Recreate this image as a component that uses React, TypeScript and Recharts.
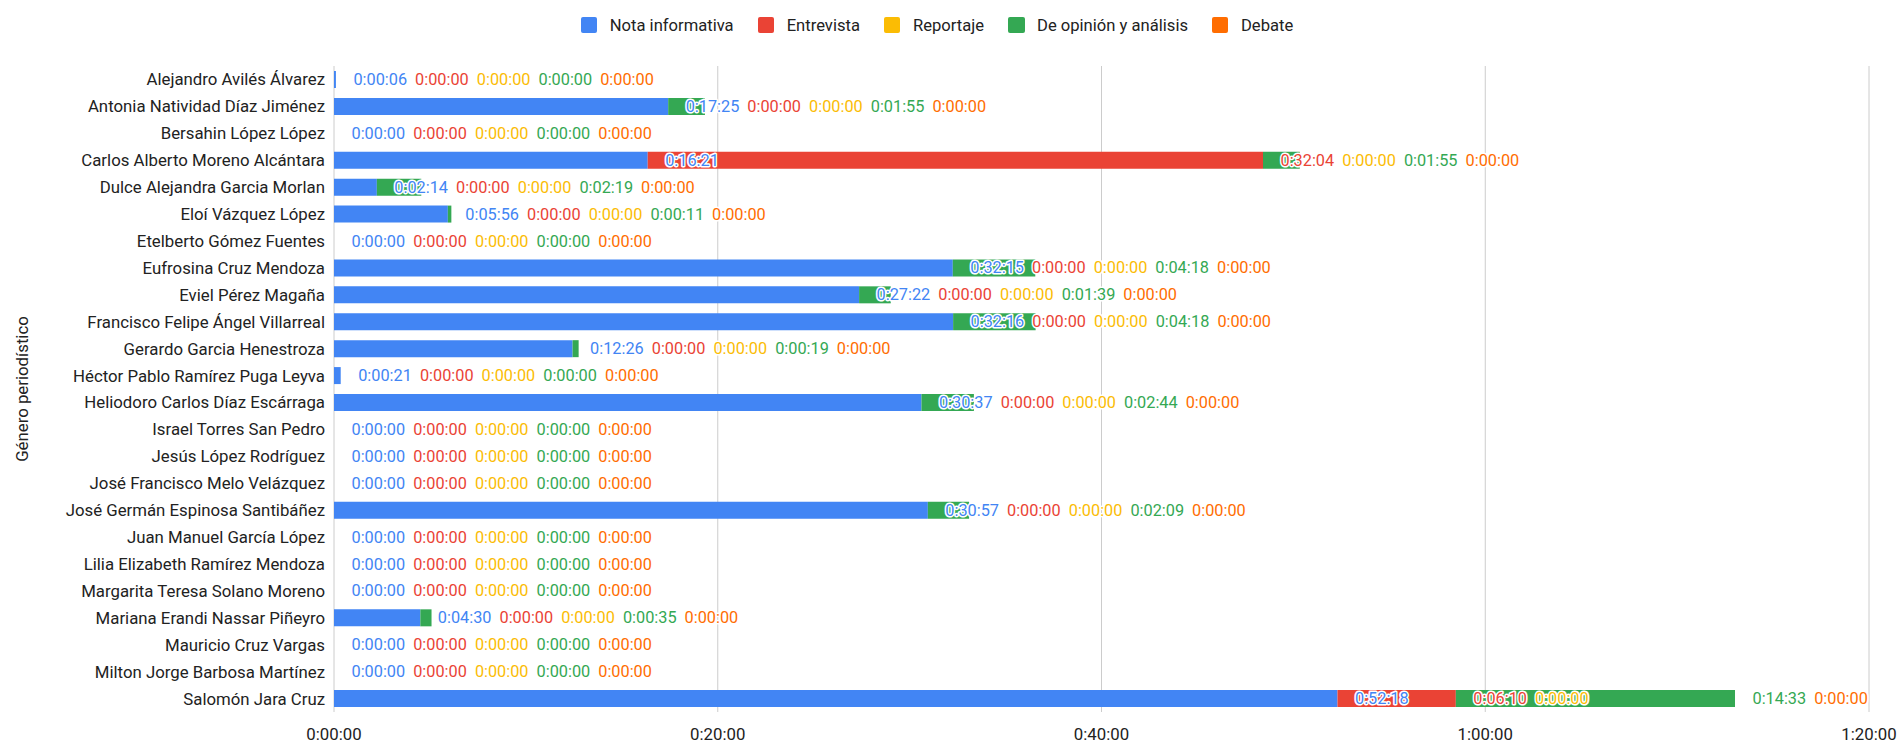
import { BarChart, Bar, XAxis, YAxis, CartesianGrid, Legend } from "recharts";

const candidates = [
  "Alejandro Avilés Álvarez",
  "Antonia Natividad Díaz Jiménez",
  "Bersahin López López",
  "Carlos Alberto Moreno Alcántara",
  "Dulce Alejandra Garcia Morlan",
  "Eloí Vázquez López",
  "Etelberto Gómez Fuentes",
  "Eufrosina Cruz Mendoza",
  "Eviel Pérez Magaña",
  "Francisco Felipe Ángel Villarreal",
  "Gerardo Garcia Henestroza",
  "Héctor Pablo Ramírez Puga Leyva",
  "Heliodoro Carlos Díaz Escárraga",
  "Israel Torres San Pedro",
  "Jesús López Rodríguez",
  "José Francisco Melo Velázquez",
  "José Germán Espinosa Santibáñez",
  "Juan Manuel García López",
  "Lilia Elizabeth Ramírez Mendoza",
  "Margarita Teresa Solano Moreno",
  "Mariana Erandi Nassar Piñeyro",
  "Mauricio Cruz Vargas",
  "Milton Jorge Barbosa Martínez",
  "Salomón Jara Cruz",
];

const notaInformativa = [
  "0:00:06", "0:17:25", "0:00:00", "0:16:21", "0:02:14", "0:05:56", "0:00:00", "0:32:15",
  "0:27:22", "0:32:16", "0:12:26", "0:00:21", "0:30:37", "0:00:00", "0:00:00", "0:00:00",
  "0:30:57", "0:00:00", "0:00:00", "0:00:00", "0:04:30", "0:00:00", "0:00:00", "0:52:18",
];
const entrevista = [
  "0:00:00", "0:00:00", "0:00:00", "0:32:04", "0:00:00", "0:00:00", "0:00:00", "0:00:00",
  "0:00:00", "0:00:00", "0:00:00", "0:00:00", "0:00:00", "0:00:00", "0:00:00", "0:00:00",
  "0:00:00", "0:00:00", "0:00:00", "0:00:00", "0:00:00", "0:00:00", "0:00:00", "0:06:10",
];
const reportaje = candidates.map(() => "0:00:00");
const opinion = [
  "0:00:00", "0:01:55", "0:00:00", "0:01:55", "0:02:19", "0:00:11", "0:00:00", "0:04:18",
  "0:01:39", "0:04:18", "0:00:19", "0:00:00", "0:02:44", "0:00:00", "0:00:00", "0:00:00",
  "0:02:09", "0:00:00", "0:00:00", "0:00:00", "0:00:35", "0:00:00", "0:00:00", "0:14:33",
];
const debate = candidates.map(() => "0:00:00");

const xTicks = [0, 1200, 2400, 3600, 4800];

const SERIES = [
  { key: "nota", name: "Nota informativa", color: "#4285F4", values: notaInformativa },
  { key: "entrevista", name: "Entrevista", color: "#EA4335", values: entrevista },
  { key: "reportaje", name: "Reportaje", color: "#FBBC04", values: reportaje },
  { key: "opinion", name: "De opinión y análisis", color: "#34A853", values: opinion },
  { key: "debate", name: "Debate", color: "#FF6D01", values: debate },
];

const FONT = "Roboto, Arial, sans-serif";
const FS = 16.8;
const LABEL_FS = 16.3;
const LEGEND_FS = 16.6;
const CHART_W = 1898;
const CHART_H = 748;
const Y_AXIS_W = 334;
const RIGHT = 29;
const PX_PER_SEC = (CHART_W - Y_AXIS_W - RIGHT) / 4800;

function toSeconds(t: string): number {
  const [h, m, s] = t.split(":").map(Number);
  return h * 3600 + m * 60 + s;
}

function formatTime(sec: number): string {
  const h = Math.floor(sec / 3600);
  const m = Math.floor((sec % 3600) / 60);
  const s = sec % 60;
  return `${h}:${String(m).padStart(2, "0")}:${String(s).padStart(2, "0")}`;
}

// rough Roboto advance widths
function textWidth(t: string): number {
  let w = 0;
  for (const c of t) w += c === ":" ? 0.242 : 0.562;
  return w * LABEL_FS;
}

const data = candidates.map((name, i) => {
  const row: Record<string, any> = { name };
  SERIES.forEach((s) => (row[s.key] = toSeconds(s.values[i])));
  return row;
});

// last stacked segment: draws itself, then the row's labels on top.
// Google-style: each label at its segment end, pushed right so they don't overlap
function LastSegment(props: any) {
  const { x, y, width, height, fill } = props;
  const row = props.payload && props.payload.name ? props.payload : data[props.index ?? 0];
  if (x == null || y == null) return null;
  const cy = y + height / 2;
  const before = SERIES.slice(0, -1).reduce((acc, s) => acc + row[s.key], 0);
  const x0 = x - before * PX_PER_SEC;
  let cum = 0;
  let lastEnd = -Infinity;
  return (
    <g>
      {width > 0 && <rect x={x} y={y} width={width} height={height} fill={fill} />}
      {SERIES.map((s) => {
        cum += row[s.key];
        const txt = formatTime(row[s.key]);
        const lx = Math.max(x0 + cum * PX_PER_SEC + 17.5, lastEnd + 8);
        lastEnd = lx + textWidth(txt);
        return (
          <text
            key={s.key}
            x={lx}
            y={cy}
            fill={s.color}
            fontSize={LABEL_FS}
            fontFamily={FONT}
            dominantBaseline="central"
            stroke="#fff"
            strokeWidth={3}
            strokeLinejoin="round"
            paintOrder="stroke"
          >
            {txt}
          </text>
        );
      })}
    </g>
  );
}

function LegendContent() {
  return (
    <div style={{ height: 54, display: "flex", justifyContent: "center", alignItems: "flex-start", paddingRight: 24 }}>
      {SERIES.map((s, i) => (
        <div
          key={s.key}
          style={{
            display: "flex",
            alignItems: "center",
            marginLeft: i === 0 ? 0 : 24,
            height: 26,
            fontFamily: FONT,
            fontSize: LEGEND_FS,
            color: "#222",
          }}
        >
          <span style={{ width: 16.5, height: 16.5, background: s.color, borderRadius: 2, marginRight: 12.5, display: "inline-block" }} />
          {s.name}
        </div>
      ))}
    </div>
  );
}

function AxisTitle(props: any) {
  const vb = props.viewBox;
  const cy = vb.y + vb.height / 2;
  return (
    <text
      x={22}
      y={cy}
      transform={`rotate(-90, 22, ${cy})`}
      textAnchor="middle"
      dominantBaseline="central"
      fontSize={FS}
      fontFamily={FONT}
      fill="#222"
    >
      Género periodístico
    </text>
  );
}

export default function App() {
  return (
    <div style={{ position: "absolute", left: 0, top: 0, width: CHART_W, height: CHART_H, background: "#fff" }}>
      <BarChart
        layout="vertical"
        width={CHART_W}
        height={CHART_H}
        data={data}
        margin={{ top: 12, right: RIGHT, bottom: 6, left: 0 }}
      >
        <CartesianGrid horizontal={false} stroke="#cccccc" />
        <XAxis
          type="number"
          domain={[0, 4800]}
          ticks={xTicks}
          tickFormatter={formatTime}
          axisLine={false}
          tickLine={false}
          tickSize={0}
          tickMargin={16}
          height={30}
          tick={{ fill: "#222", fontSize: FS, fontFamily: FONT }}
        />
        <YAxis
          type="category"
          dataKey="name"
          width={Y_AXIS_W}
          axisLine={false}
          tickLine={false}
          tickSize={0}
          tickMargin={9}
          interval={0}
          tick={{ fill: "#222", fontSize: FS, fontFamily: FONT }}
          label={{ content: AxisTitle }}
        />
        <Legend
          verticalAlign="top"
          align="center"
          content={LegendContent}
          wrapperStyle={{ left: 0, width: CHART_W }}
        />
        {SERIES.map((s, i) => (
          <Bar
            key={s.key}
            dataKey={s.key}
            name={s.name}
            stackId="a"
            fill={s.color}
            barSize={17}
            isAnimationActive={false}
            shape={i === SERIES.length - 1 ? LastSegment : undefined}
          />
        ))}
      </BarChart>
    </div>
  );
}
